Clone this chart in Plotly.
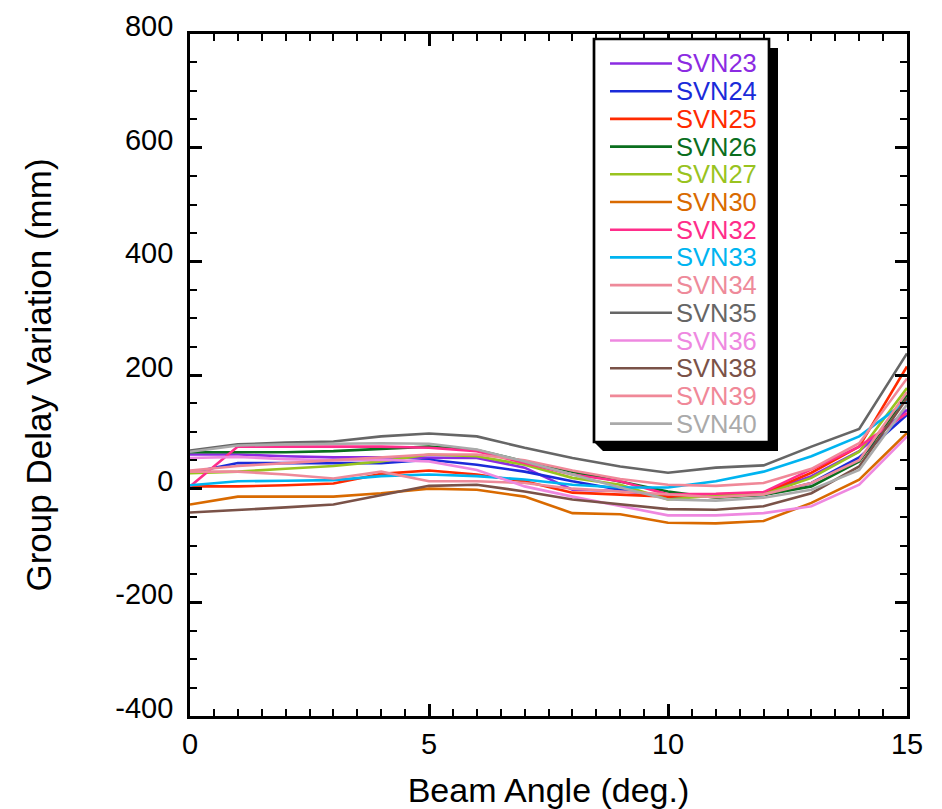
import plotly.graph_objects as go

beam_angle = list(range(16))

svn_names = ["SVN23", "SVN24", "SVN25", "SVN26", "SVN27", "SVN30", "SVN32",
             "SVN33", "SVN34", "SVN35", "SVN36", "SVN38", "SVN39", "SVN40"]

svn23 = [60, 60, 57, 55, 55, 54, 54, 37, -2, -4, -14, -12, -8, 22, 66, 139]
svn24 = [28, 45, 45, 45, 45, 51, 42, 30, 13, -2, -14, -12, -11, 10, 55, 130]
svn25 = [4, 4, 6, 9, 26, 32, 25, 13, -7, -10, -14, -10, -8, 28, 74, 215]
svn26 = [64, 64, 64, 66, 70, 74, 68, 48, 30, 13, -5, -16, -11, 4, 48, 165]
svn27 = [27, 30, 35, 40, 48, 60, 57, 42, 19, 7, -19, -12, -10, 19, 65, 177]
svn30 = [-28, -14, -14, -14, -8, 0, -2, -14, -43, -45, -60, -61, -57, -25, 16, 98]
svn32 = [4, 74, 74, 74, 74, 72, 66, 45, 25, 13, -10, -9, -6, 34, 74, 133]
svn33 = [6, 13, 14, 15, 22, 25, 22, 16, 7, 2, 2, 13, 30, 57, 92, 155]
svn34 = [30, 30, 25, 18, 30, 13, 13, 10, 0, -5, -10, -15, -10, 10, 50, 170]
svn35 = [67, 78, 81, 83, 92, 97, 92, 72, 54, 39, 28, 37, 41, 74, 105, 238]
svn36 = [54, 56, 52, 50, 51, 48, 33, 4, -14, -31, -47, -47, -43, -31, 7, 92]
svn38 = [-42, -38, -33, -28, -12, 5, 7, -5, -19, -28, -36, -37, -31, -8, 39, 159]
svn39 = [32, 40, 45, 50, 54, 60, 60, 50, 32, 17, 7, 5, 10, 35, 80, 194]
svn40 = [65, 76, 78, 79, 80, 79, 69, 48, 25, 2, -19, -21, -16, -2, 33, 148]

series = [svn23, svn24, svn25, svn26, svn27, svn30, svn32,
          svn33, svn34, svn35, svn36, svn38, svn39, svn40]

colors = ["#8B2BE2", "#1A2BD9", "#FF2A00", "#0A6E1E", "#99C31F", "#D96A00", "#FF2D8A",
          "#00B4F0", "#EE8A9A", "#666666", "#EE88E0", "#7A5248", "#F08898", "#AAAAAA"]

y_ticks = [-400, -200, 0, 200, 400, 600, 800]
y_ticktext = ["-400", "-200", "0", "200", "400", "600", "800"]
x_ticks = [0, 5, 10, 15]

fig = go.Figure()
for name, vals, col in zip(svn_names, series, colors):
    fig.add_trace(go.Scatter(
        x=beam_angle, y=vals, mode="lines",
        line=dict(color=col, width=2.6),
        name=name, showlegend=False,
    ))

font_family = "Liberation Sans, Arial, Helvetica, sans-serif"

axis_common = dict(
    showline=True, linecolor="black", linewidth=2.7, mirror="ticks",
    ticks="inside", ticklen=12, tickwidth=2.7, tickcolor="black",
    showgrid=False, zeroline=False,
    tickfont=dict(family=font_family, size=29, color="black"),
)

fig.update_xaxes(
    range=[0, 15], tickvals=x_ticks, automargin="bottom",
    minor=dict(dtick=0.5, ticks="inside", ticklen=7, tickwidth=2.2, tickcolor="black"),
    title=dict(text="Beam Angle (deg.)", font=dict(family=font_family, size=34, color="black"), standoff=20),
    **axis_common,
)
fig.update_yaxes(
    range=[-400, 800], tickvals=y_ticks, ticktext=y_ticktext, automargin="left",
    ticklabelshift=-8, ticklabelstandoff=8,
    minor=dict(dtick=50, ticks="inside", ticklen=7, tickwidth=2.2, tickcolor="black"),
    title=dict(text="Group Delay Variation (mm)", font=dict(family=font_family, size=35, color="black"), standoff=54),
    **axis_common,
)

# ---- manual legend box with drop shadow (positions in paper fractions) ----
L, R, T, B = 190.0, 907.0, 34.0, 716.0


def px_x(p):
    return (p - L) / (R - L)


def px_y(p):
    return (B - p) / (B - T)


bx0, bx1, by0, by1 = 594, 769, 39, 442
sh = 9
shadow_path = (
    f"M {px_x(bx0)} {px_y(by1)} L {px_x(bx0 + sh)} {px_y(by1 + sh)} "
    f"L {px_x(bx1 + sh)} {px_y(by1 + sh)} L {px_x(bx1 + sh)} {px_y(by0 + sh)} "
    f"L {px_x(bx1)} {px_y(by0 + sh)} L {px_x(bx1)} {px_y(by1)} Z"
)
fig.add_shape(type="path", xref="paper", yref="paper", path=shadow_path,
              fillcolor="black", line=dict(width=0), layer="above")
fig.add_shape(type="rect", xref="paper", yref="paper",
              x0=px_x(bx0), x1=px_x(bx1), y0=px_y(by1), y1=px_y(by0),
              fillcolor="white", line=dict(color="black", width=2.7), layer="above")

row0, row_gap = 63.5, 27.7
for i, (name, col) in enumerate(zip(svn_names, colors)):
    yy = px_y(row0 + i * row_gap)
    fig.add_shape(type="line", xref="paper", yref="paper",
                  x0=px_x(610), x1=px_x(672), y0=yy, y1=yy,
                  line=dict(color=col, width=2.6), layer="above")
    fig.add_annotation(xref="paper", yref="paper", x=px_x(674), y=yy,
                       xanchor="left", yanchor="middle", showarrow=False,
                       text=name, font=dict(family=font_family, size=25.5, color=col))

fig.update_layout(
    width=942, height=809,
    margin=dict(l=182, r=43, t=26, b=101),
    plot_bgcolor="white", paper_bgcolor="white",
    showlegend=False,
)

fig.write_html("out.html")
